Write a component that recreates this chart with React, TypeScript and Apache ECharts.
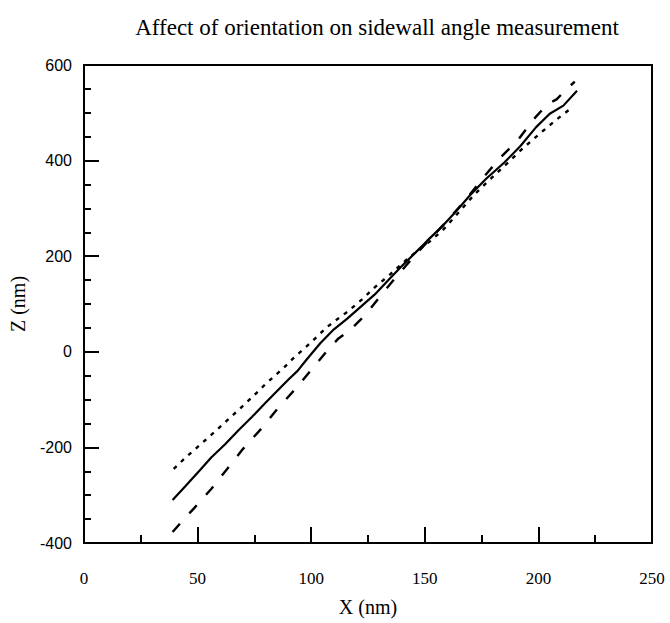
import React, { useEffect, useRef } from "react";
import * as echarts from "echarts";

const titleText = "Affect of orientation on sidewall angle measurement";
const xAxisName = "X (nm)";
const yAxisName = "Z (nm)";

// Solid line (x nm, z nm)
const solidX = [39, 45, 51, 56, 62, 68, 74, 80, 85, 90, 94, 98, 104, 110, 116, 122, 128, 134, 140, 146, 151, 158, 164, 170, 177, 185, 192, 199, 205, 211, 217];
const solidZ = [-310, -279, -248, -221, -194, -164, -136, -106, -82, -58, -40, -16, 18, 47, 70, 95, 120, 150, 180, 208, 232, 264, 295, 328, 362, 396, 430, 470, 498, 515, 546];

// Dashed line
const dashedX = [39, 44, 48.5, 56, 63, 70, 78, 85, 93, 100, 107, 112, 117, 124, 131, 138, 146, 152, 160, 168, 176, 183, 191, 198, 204, 208, 212.5, 216];
const dashedZ = [-377, -350, -327, -287, -245, -203, -161, -120, -78, -38, 2, 28, 45, 78, 120, 160, 204, 234, 275, 318, 366, 405, 443, 487, 518, 528, 550, 565];

// Dotted line
const dottedX = [39.5, 45, 51, 59, 67, 74, 80, 84, 88, 92, 100, 107, 112, 116, 122, 128, 135, 142, 147, 152, 158, 165, 172, 179, 186, 193, 201, 208, 214];
const dottedZ = [-245, -220, -195, -161, -126, -95, -67, -50, -33, -14, 20, 52, 70, 84, 108, 135, 163, 193, 212, 230, 255, 292, 330, 362, 393, 425, 458, 486, 508];

const zip = (xs: number[], ys: number[]) => xs.map((x, i) => [x, ys[i]]);

export default function App() {
  const ref = useRef<HTMLDivElement>(null);
  useEffect(() => {
    if (!ref.current) return;
    const chart = echarts.init(ref.current, null, { renderer: "svg" });
    const serif = "Liberation Serif, Times New Roman, serif";
    const sans = "Liberation Sans, Arial, sans-serif";
    const lineBase = { type: "line" as const, showSymbol: false, symbol: "none", smooth: false, silent: true };
    chart.setOption({
      animation: false,
      backgroundColor: "#fff",
      title: {
        text: titleText,
        left: 372,
        top: 11,
        textAlign: "center",
        textStyle: { fontFamily: serif, fontSize: 23, fontWeight: "normal", color: "#000" },
      },
      grid: {
        left: 83,
        top: 65,
        width: 569,
        height: 478,
        show: true,
        borderColor: "#000",
        borderWidth: 2,
        backgroundColor: "transparent",
      },
      xAxis: {
        type: "value",
        min: 0,
        max: 250,
        interval: 50,
        name: xAxisName,
        nameLocation: "middle",
        nameGap: 54,
        nameTextStyle: { fontFamily: serif, fontSize: 20, color: "#000" },
        axisLine: { show: true, onZero: false, lineStyle: { color: "#000", width: 2 } },
        axisTick: { show: true, inside: true, length: 16, lineStyle: { color: "#000", width: 2 } },
        minorTick: { show: true, splitNumber: 2, length: 8, lineStyle: { color: "#000", width: 2 } },
        splitLine: { show: false },
        axisLabel: { margin: 27, fontFamily: serif, fontSize: 17, color: "#000" },
      },
      yAxis: {
        type: "value",
        min: -400,
        max: 600,
        interval: 200,
        name: yAxisName,
        nameLocation: "middle",
        nameGap: 56,
        nameRotate: 90,
        nameTextStyle: { fontFamily: serif, fontSize: 20, color: "#000" },
        axisLine: { show: true, onZero: false, lineStyle: { color: "#000", width: 2 } },
        axisTick: { show: true, inside: true, length: 15, lineStyle: { color: "#000", width: 2 } },
        minorTick: { show: true, splitNumber: 4, length: 7, lineStyle: { color: "#000", width: 2 } },
        splitLine: { show: false },
        axisLabel: { margin: 12, fontFamily: sans, fontSize: 16, color: "#000" },
      },
      series: [
        { ...lineBase, name: "solid", data: zip(solidX, solidZ), lineStyle: { color: "#000", width: 2.2, type: "solid" } },
        { ...lineBase, name: "dashed", data: zip(dashedX, dashedZ), lineStyle: { color: "#000", width: 2.4, type: [11, 14] } },
        { ...lineBase, name: "dotted", data: zip(dottedX, dottedZ), lineStyle: { color: "#000", width: 2.4, type: [4, 6] } },
      ],
    });
    return () => chart.dispose();
  }, []);
  return <div ref={ref} style={{ position: "fixed", left: 0, top: 0, width: 670, height: 623 }} />;
}
